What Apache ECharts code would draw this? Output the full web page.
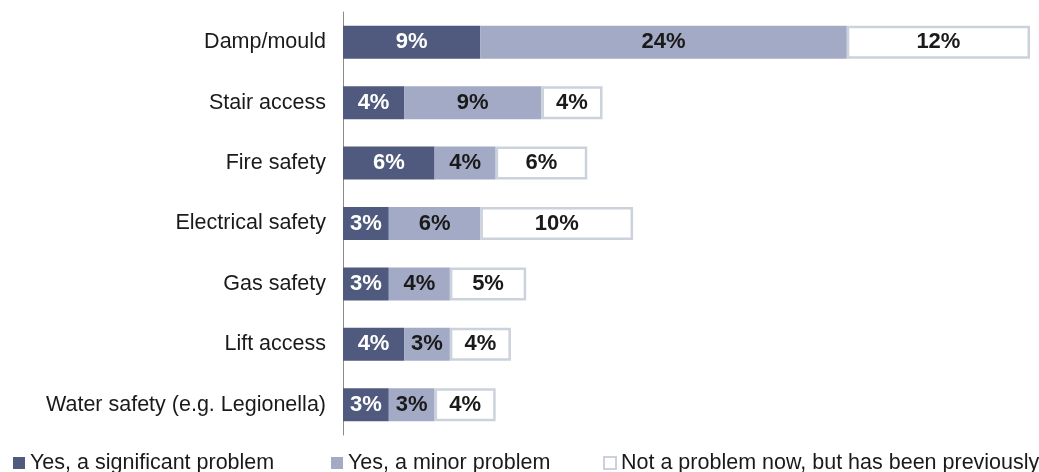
<!DOCTYPE html>
<html>
<head>
<meta charset="utf-8">
<script src="https://cdn.jsdelivr.net/npm/echarts@6/dist/echarts.min.js"></script>
<style>
  html, body { margin: 0; padding: 0; background: #ffffff; }
  #chart { width: 1039px; height: 472px; }
</style>
</head>
<body>
<div id="chart"></div>
<script>
// Housing safety issues, share of respondents (%)
const categories = [
  'Damp/mould',
  'Stair access',
  'Fire safety',
  'Electrical safety',
  'Gas safety',
  'Lift access',
  'Water safety (e.g. Legionella)'
];
const seriesNames = [
  'Yes, a significant problem',
  'Yes, a minor problem',
  'Not a problem now, but has been previously'
];
const significant = [9, 4, 6, 3, 3, 4, 3];
const minor = [24, 9, 4, 6, 4, 3, 3];
const previously = [12, 4, 6, 10, 5, 4, 4];

const colors = ['#4f5a7e', '#a3aac6', '#ffffff'];
const font = 'Liberation Sans, Arial, sans-serif';

function barSeries(name, data, color, labelColor, bordered) {
  return {
    name: name,
    type: 'bar',
    stack: 'total',
    barWidth: 33,
    data: data,
    itemStyle: bordered
      ? { color: color, borderColor: '#ccd2dc', borderWidth: 2.5 }
      : { color: color },
    label: {
      show: true,
      position: 'inside',
      formatter: '{c}%',
      color: labelColor,
      fontFamily: font,
      fontWeight: 'bold',
      fontSize: 22
    },
    emphasis: { disabled: true }
  };
}

function legendAt(left, name) {
  return {
    data: [name],
    left: left,
    top: 452,
    padding: 0,
    itemWidth: 12,
    itemHeight: 12,
    itemGap: 0,
    icon: 'rect',
    textStyle: { fontFamily: font, fontSize: 21.5, color: '#1a1a1a' },
    selectedMode: false
  };
}

const chart = echarts.init(document.getElementById('chart'), null, { renderer: 'canvas' });
chart.setOption({
  animation: false,
  backgroundColor: '#ffffff',
  grid: { left: 343, right: 9, top: 12, height: 423, containLabel: false },
  xAxis: {
    type: 'value',
    min: 0,
    max: 45,
    show: false
  },
  yAxis: {
    type: 'category',
    data: categories,
    inverse: true,
    axisLine: { show: true, lineStyle: { color: '#8c8c8c', width: 1 } },
    axisTick: { show: false },
    axisLabel: {
      color: '#1a1a1a',
      fontFamily: font,
      fontSize: 21.5,
      margin: 17
    },
    splitLine: { show: false }
  },
  legend: [
    legendAt(13, seriesNames[0]),
    legendAt(331, seriesNames[1]),
    legendAt(603, seriesNames[2])
  ],
  series: [
    barSeries(seriesNames[0], significant, colors[0], '#ffffff', false),
    barSeries(seriesNames[1], minor, colors[1], '#1a1a1a', false),
    barSeries(seriesNames[2], previously, colors[2], '#1a1a1a', true)
  ]
});
</script>
</body>
</html>
